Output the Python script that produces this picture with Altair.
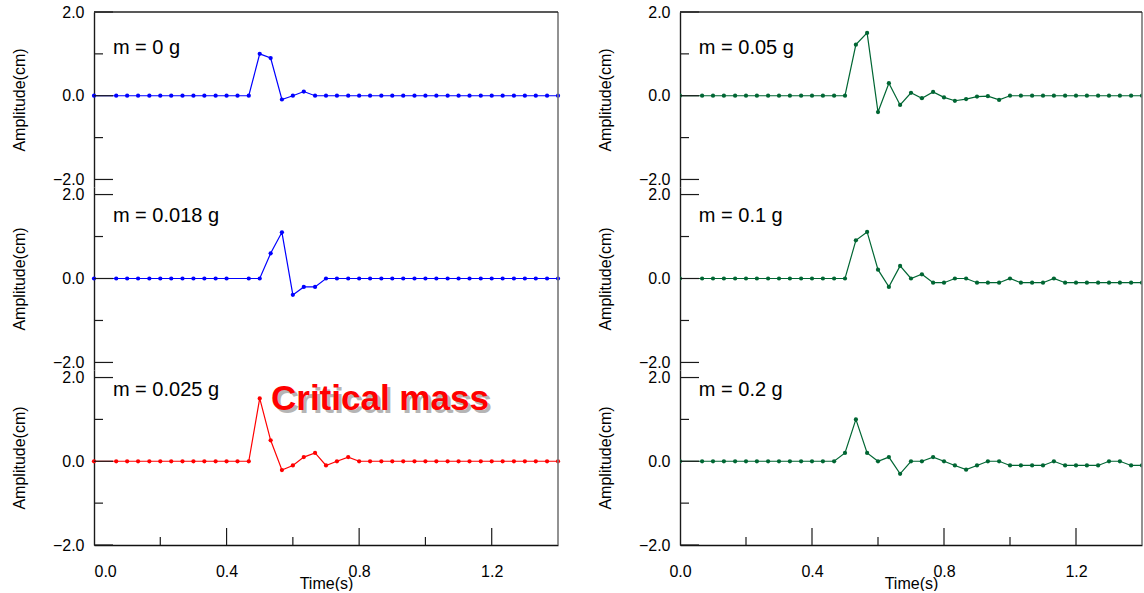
import altair as alt
import pandas as pd

FONT = "Liberation Sans"

# sample times (s); the sample at 1/30 s is not drawn in the reference
times = [0.0, 0.067, 0.1, 0.133, 0.167, 0.2, 0.233, 0.267, 0.3, 0.333,
         0.367, 0.4, 0.433, 0.467, 0.5, 0.533, 0.567, 0.6, 0.633, 0.667,
         0.7, 0.733, 0.767, 0.8, 0.833, 0.867, 0.9, 0.933, 0.967, 1.0,
         1.033, 1.067, 1.1, 1.133, 1.167, 1.2, 1.233, 1.267, 1.3, 1.333,
         1.367, 1.4]

amp_m0 = [0, 0, 0, 0, 0, 0, 0, 0, 0, 0,
          0, 0, 0, 0, 1.0, 0.9, -0.09, 0.0, 0.1, 0,
          0, 0, 0, 0, 0, 0, 0, 0, 0, 0,
          0, 0, 0, 0, 0, 0, 0, 0, 0, 0,
          0, 0]
amp_m0018 = [0, 0, 0, 0, 0, 0, 0, 0, 0, 0,
             0, 0, None, 0, 0, 0.6, 1.1, -0.39, -0.2, -0.2,
             0, 0, 0, 0, 0, 0, 0, 0, 0, 0,
             0, 0, 0, 0, 0, 0, 0, 0, 0, 0,
             0, 0]
amp_m0025 = [0, 0, 0, 0, 0, 0, 0, 0, 0, 0,
             0, 0, 0, 0, 1.5, 0.5, -0.21, -0.1, 0.1, 0.2,
             -0.1, 0, 0.1, 0, 0, 0, 0, 0, 0, 0,
             0, 0, 0, 0, 0, 0, 0, 0, 0, 0,
             0, 0]
amp_m005 = [0, 0, 0, 0, 0, 0, 0, 0, 0, 0,
            0, 0, 0, 0, 0, 1.22, 1.5, -0.39, 0.3, -0.22,
            0.07, -0.06, 0.09, -0.04, -0.12, -0.08, -0.02, -0.01, -0.1, 0,
            0, 0, 0, 0, 0, 0, 0, 0, 0, 0,
            0, 0]
amp_m01 = [0, 0, 0, 0, 0, 0, 0, 0, 0, 0,
           0, 0, 0, 0, 0, 0.91, 1.11, 0.21, -0.2, 0.3,
           0, 0.1, -0.1, -0.1, 0, 0, -0.1, -0.1, -0.1, 0,
           -0.1, -0.1, -0.1, 0, -0.1, -0.1, -0.1, -0.1, -0.1, -0.1,
           -0.1, -0.1]
amp_m02 = [0, 0, 0, 0, 0, 0, 0, 0, 0, 0,
           0, 0, 0, 0, 0.2, 1.0, 0.2, 0, 0.1, -0.3,
           0, 0, 0.1, 0, -0.1, -0.2, -0.1, 0, 0, -0.1,
           -0.1, -0.1, -0.1, 0, -0.1, -0.1, -0.1, -0.1, 0, 0,
           -0.1, -0.1]

labels = ["m = 0 g", "m = 0.018 g", "m = 0.025 g",
          "m = 0.05 g", "m = 0.1 g", "m = 0.2 g"]
series = [amp_m0, amp_m0018, amp_m0025, amp_m005, amp_m01, amp_m02]
colors = ["#0000FF", "#0000FF", "#FF0000", "#006633", "#006633", "#006633"]
label_y = [1.0, 1.34, 1.56, 1.0, 1.34, 1.56]

Y_LABELS = [-2, 0, 2]
Y_MAJOR = [-2, 0, 2]
Y_MINOR = [-1, 1]
X_LABELS = [0, 0.4, 0.8, 1.2]
X_MAJOR = [0.4, 0.8, 1.2]
X_MINOR = [0.2, 0.6, 1.0]

CRIT_TEXT = "Critical mass"
CRIT_X, CRIT_Y = 0.534, 1.22

E = 0.18
WIDTHS = [464, 462]


def panel(k):
    col, row = divmod(k, 3)
    w = WIDTHS[col]
    clip = col == 1
    if row == 0:
        dom, h = [-2 - E, 2], 175
    elif row == 1:
        dom, h = [-2 - E, 2 + E], 183
    else:
        dom, h = [-2, 2 + E], 175
    xs = alt.Scale(domain=[0, 1.4], nice=False, zero=False)
    ys = alt.Scale(domain=dom, nice=False, zero=False)
    df = pd.DataFrame({"t": times, "a": series[k]}).dropna()
    color = colors[k]

    yaxis = alt.Axis(values=Y_LABELS, format=".1f", ticks=False, grid=False,
                     domainColor="#1a1a1a", domainWidth=1.4,
                     labelFont=FONT, labelFontSize=16, labelColor="black",
                     labelPadding=10, title="Amplitude(cm)", titleFont=FONT,
                     titleFontSize=16, titleFontWeight="normal",
                     titleColor="black", titlePadding=25)
    if row == 2:
        xaxis = alt.Axis(values=X_LABELS, format=".1f", ticks=False, grid=False,
                         domainColor="#111111", domainWidth=1.5,
                         labelFont=FONT, labelFontSize=16, labelColor="black",
                         labelPadding=18, labelFlush=(col == 0),
                         title="Time(s)", titleFont=FONT, titleFontSize=16,
                         titleFontWeight="normal", titleColor="black",
                         titlePadding=-4)
        X = alt.X("t:Q", scale=xs, axis=xaxis)
        Xo = alt.X("t:Q", scale=xs)
    else:
        X = alt.X("t:Q", scale=xs, axis=None)
        Xo = alt.X("t:Q", scale=xs, axis=None)
    Yo = alt.Y("a:Q", scale=ys)

    line = alt.Chart(df).mark_line(color=color, strokeWidth=1.2, clip=clip).encode(
        x=X, y=alt.Y("a:Q", scale=ys, axis=yaxis))
    pts = alt.Chart(df).mark_circle(color=color, size=18, opacity=1,
                                    clip=clip).encode(x=Xo, y=Yo)

    ymaj = alt.Chart(pd.DataFrame({"a": Y_MAJOR})).mark_rule(
        color="#1a1a1a", strokeWidth=1.2).encode(
        y=Yo, x=alt.value(0), x2=alt.value(19))
    ymin = alt.Chart(pd.DataFrame({"a": Y_MINOR})).mark_rule(
        color="#1a1a1a", strokeWidth=1.2).encode(
        y=Yo, x=alt.value(0), x2=alt.value(9))
    right = alt.Chart(pd.DataFrame({"z": [0]})).mark_rule(
        color="#777777", strokeWidth=1.6).encode(
        x=alt.value(w), y=alt.value(0), y2=alt.value(h))

    txt = alt.Chart(pd.DataFrame({"t": [0.057], "a": [label_y[k]],
                                  "lab": [labels[k]]})).mark_text(
        align="left", baseline="alphabetic", font=FONT, fontSize=20,
        color="black").encode(x=Xo, y=Yo, text="lab:N")

    layers = [line, pts, ymaj, ymin, right, txt]
    if row == 0:
        top = alt.Chart(pd.DataFrame({"z": [0]})).mark_rule(
            color="#222222", strokeWidth=1.4).encode(
            x=alt.value(0), x2=alt.value(w), y=alt.value(0))
        layers.append(top)
    if row == 2:
        xmaj = alt.Chart(pd.DataFrame({"t": X_MAJOR})).mark_rule(
            color="#1a1a1a", strokeWidth=1.2).encode(
            x=Xo, y=alt.value(h), y2=alt.value(h - 17))
        xmin = alt.Chart(pd.DataFrame({"t": X_MINOR})).mark_rule(
            color="#1a1a1a", strokeWidth=1.2).encode(
            x=Xo, y=alt.value(h), y2=alt.value(h - 8))
        layers += [xmaj, xmin]
    if k == 2:
        cdf = pd.DataFrame({"t": [CRIT_X], "a": [CRIT_Y], "lab": [CRIT_TEXT]})
        shadow = alt.Chart(cdf).mark_text(
            align="left", baseline="alphabetic", font=FONT, fontSize=35,
            fontWeight="bold", color="#b5b5b5", dx=3, dy=3).encode(
            x=Xo, y=Yo, text="lab:N")
        crit = alt.Chart(cdf).mark_text(
            align="left", baseline="alphabetic", font=FONT, fontSize=35,
            fontWeight="bold", color="#FF0000").encode(
            x=Xo, y=Yo, text="lab:N")
        layers += [shadow, crit]
    return alt.layer(*layers).properties(width=w, height=h)


left = alt.vconcat(panel(0), panel(1), panel(2), spacing=0, bounds="flush")
right = alt.vconcat(panel(3), panel(4), panel(5), spacing=0, bounds="flush")

chart = alt.hconcat(left, right, spacing=36).properties(
    padding={"left": 11, "top": 4, "right": 0, "bottom": 0},
    background="white",
).configure_view(strokeWidth=0)

chart.save("out.html", embed_options={"renderer": "svg", "actions": False})
